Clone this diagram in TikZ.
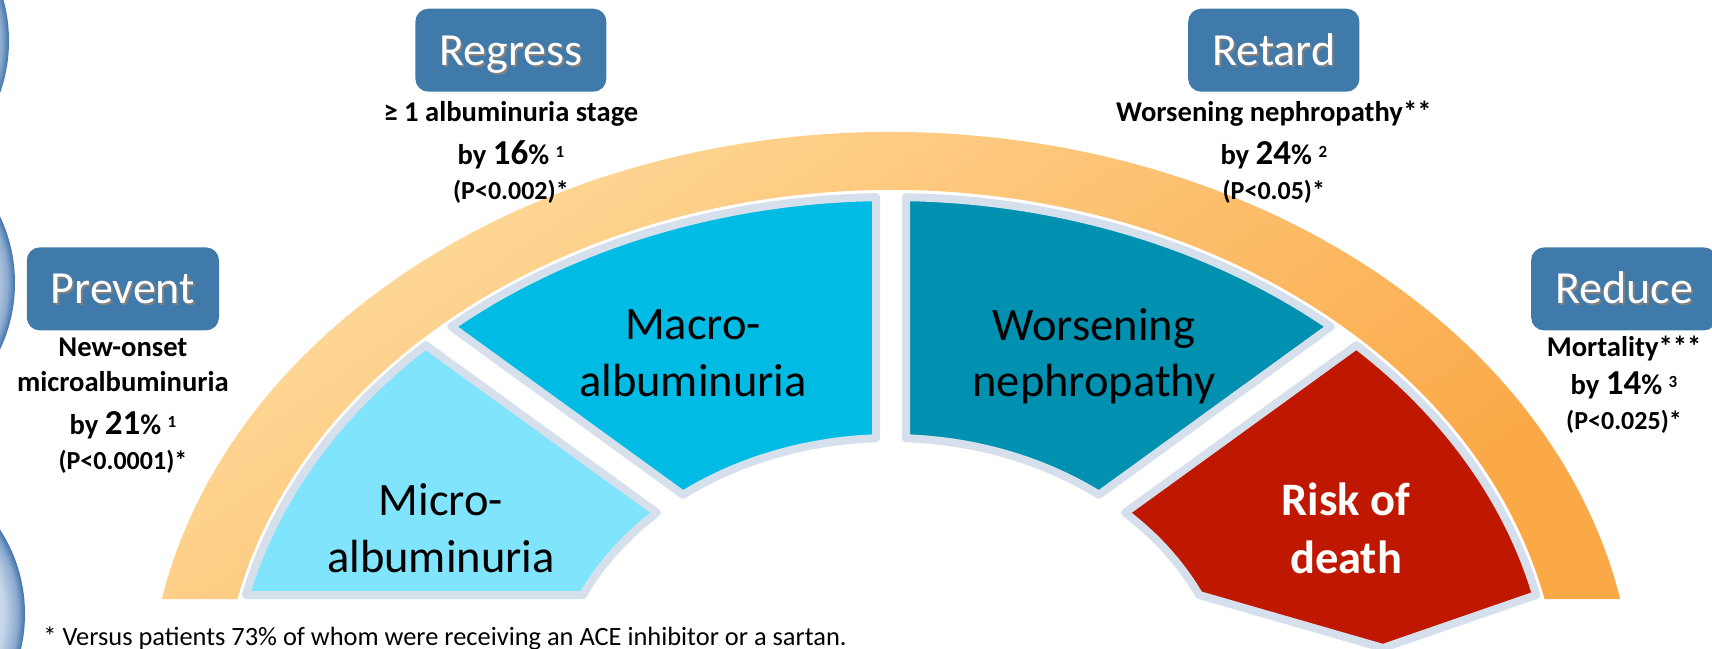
\documentclass[tikz,border=0pt]{standalone}
\usepackage{fontspec}
\setmainfont{Carlito}
\usetikzlibrary{positioning}

\definecolor{stageBlue}{HTML}{3F7AAB}
\definecolor{microCyan}{HTML}{80E4FC}
\definecolor{macroCyan}{HTML}{00BCE4}
\definecolor{nephroTeal}{HTML}{0090B0}
\definecolor{deathRed}{HTML}{C01800}
\definecolor{tileEdge}{HTML}{D6E0EC}
\definecolor{bandLight}{HTML}{FFDDA0}
\definecolor{bandDark}{HTML}{FBA846}
\definecolor{ballFace}{HTML}{C8D7EA}
\definecolor{ballRim}{HTML}{3F72AC}

% glassy bubbles on the left margin
\pgfdeclareradialshading{glassball}{\pgfpoint{0bp}{0bp}}{%
  color(0bp)=(ballFace); color(21.5bp)=(ballFace);
  color(23.8bp)=(ballRim!45!ballFace); color(25bp)=(ballRim); color(50bp)=(ballRim)}

% white lettering with a drop shadow
\newcommand{\shadowed}[1]{\makebox[0pt][l]{\hspace{1pt}\raisebox{-1pt}{\color{black!50}#1}}#1}
\newcommand{\bignum}[1]{{\fontsize{17.5}{17.5}\selectfont #1}}
\newcommand{\noteref}[1]{\raisebox{3.5pt}{\fontsize{8.5}{8.5}\selectfont #1}}
\newcommand{\pval}[1]{{\fontsize{13}{13}\selectfont #1}}

\begin{document}
\begin{tikzpicture}[
            x=0.5pt, y=0.5pt,
            stagebox/.style={
                    rectangle,
                    rounded corners=6.5pt,
                    fill=stageBlue,
                    text=white,
                    minimum height=41.5pt,
                    inner xsep=12pt,
                    text height=15pt,
                    text depth=0pt,
                    font=\fontsize{23}{23}\selectfont
                },
            note/.style={
                    align=center,
                    inner sep=0pt,
                    font=\bfseries\fontsize{14.3}{17.5}\selectfont
                },
            tile/.style={
                    draw=tileEdge,
                    line width=4pt,
                    line join=round,
                    preaction={draw=white, line width=6pt, line join=round}
                },
            tilelabel/.style={
                    align=center,
                    inner sep=0pt,
                    font=\fontsize{23.25}{28.3}\selectfont
                }
        ]

        \path[use as bounding box, fill=white] (0,0) rectangle (1712,648);

        % Bulles a gauche
        \path[shading=glassball] (-146,607) circle[radius=155];
        \path[shading=glassball] (-140,365) circle[radius=155];
        \path[shading=glassball] (-130,34) circle[radius=155];

        \begin{scope}[shift={(891,-62)}]
            % Arc orange
            \shade[top color=bandLight, bottom color=bandDark, shading angle=35]
                (168.93:743 and 578) arc[start angle=168.93, end angle=11.07, x radius=743, y radius=578]
                -- (12.32:669 and 520) arc[start angle=12.32, end angle=167.68, x radius=669, y radius=520]
                -- cycle;

            % Stades
            \draw[tile, fill=microCyan]
                (134.67:662 and 513) arc[start angle=134.67, end angle=167.05, x radius=662, y radius=513]
                -- (154.99:340 and 272) arc[start angle=154.99, end angle=133.5, x radius=340, y radius=272]
                -- cycle;
            \draw[tile, fill=macroCyan]
                (91.30:662 and 513) arc[start angle=91.30, end angle=131.64, x radius=662, y radius=513]
                -- (127.7:340 and 272) arc[start angle=127.7, end angle=92.53, x radius=340, y radius=272]
                -- cycle;
            \draw[tile, fill=nephroTeal]
                (88.70:662 and 513) arc[start angle=88.70, end angle=48.36, x radius=662, y radius=513]
                -- (52.3:340 and 272) arc[start angle=52.3, end angle=87.47, x radius=340, y radius=272]
                -- cycle;
            \draw[tile, fill=deathRed]
                (45.33:662 and 513) arc[start angle=45.33, end angle=12.95, x radius=662, y radius=513]
                -- (492,62)
                -- (25.01:340 and 272) arc[start angle=25.01, end angle=46.5, x radius=340, y radius=272]
                -- cycle;
        \end{scope}

        \node[tilelabel] (microlabel) at (441,119.7) {Micro-\\albuminuria};
        \node[tilelabel] (macrolabel) at (693,294.7) {Macro-\\albuminuria};
        \node[tilelabel] (nephrolabel) at (1094,291.7) {Worsening\\nephropathy};
        \node[tilelabel, text=white, font=\bfseries\fontsize{23.25}{29}\selectfont] (deathlabel) at (1346,120.1) {Risk of\\death};

        % Objectifs
        \node[stagebox] (prevent) at (122.9,359.1) {\shadowed{Prevent}};
        \node[stagebox] (regress) at (510.9,597.8) {\shadowed{Regress}};
        \node[stagebox] (retard) at (1273.8,597.8) {\shadowed{Retard}};
        \node[stagebox] (reduce) at (1624,359.1) {\shadowed{Reduce}};

        \node[note, below=3.5pt of prevent] (preventnote) {New-onset\\microalbuminuria\\[4pt]by \bignum{21}\% \noteref{1}\\[0pt]\pval{(P<0.0001)*}};
        \node[note, below=4.5pt of regress] (regressnote) {≥ 1 albuminuria stage\\[4pt]by \bignum{16}\% \noteref{1}\\[0pt]\pval{(P<0.002)*}};
        \node[note, below=4.5pt of retard] (retardnote) {Worsening nephropathy**\\[4pt]by \bignum{24}\% \noteref{2}\\[0pt]\pval{(P<0.05)*}};
        \node[note, below=2.5pt of reduce] (reducenote) {Mortality***\\[1.5pt]by \bignum{14}\% \noteref{3}\\[0pt]\pval{(P<0.025)*}};

        \node[anchor=base west, inner sep=0pt, font=\fontsize{13.2}{13.2}\selectfont] (footnote) at (43,3) {* Versus patients 73\% of whom were receiving an ACE inhibitor or a sartan.};

    \end{tikzpicture}
\end{document}
